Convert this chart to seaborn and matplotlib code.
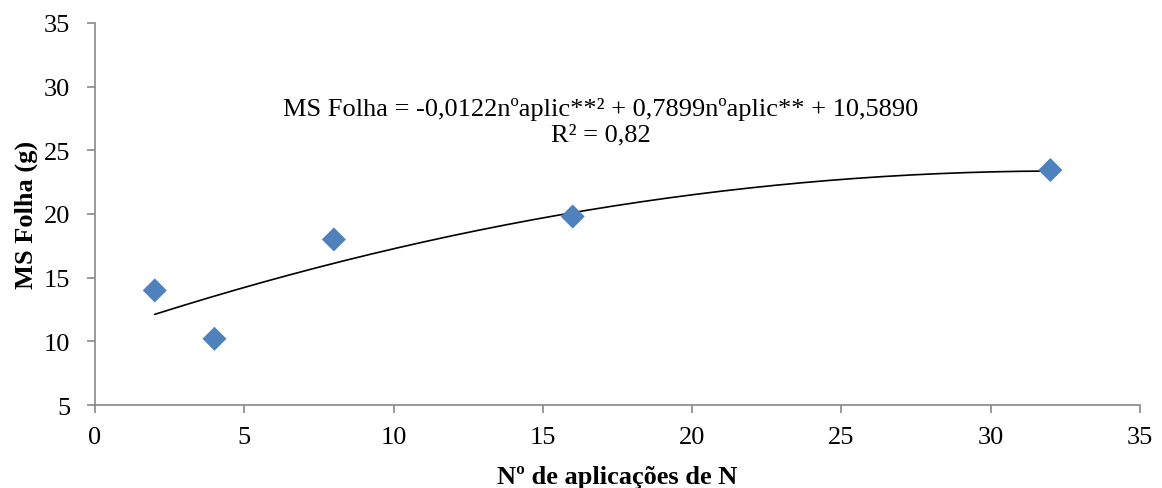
import numpy as np
import pandas as pd
import matplotlib
matplotlib.use("Agg")
import matplotlib.pyplot as plt
import seaborn as sns

# Number of N applications and leaf dry mass (g)
aplicacoes = [2, 4, 8, 16, 32]
ms_folha = [14.0, 10.2, 18.0, 19.8, 23.45]

# Quadratic trend coefficients (a·x² + b·x + c) and R²
coef = [-0.0122, 0.7899, 10.5890]
r2 = 0.82

sns.set_theme(style="white")
plt.rcParams["font.family"] = ["Liberation Serif", "DejaVu Serif"]
plt.rcParams["text.color"] = "black"
plt.rcParams["axes.labelcolor"] = "black"

fig = plt.figure(figsize=(11.62, 4.89), dpi=100)
ax = fig.add_axes([0.0818, 0.1697, 0.981 - 0.0818, 0.951 - 0.1697])

df = pd.DataFrame({"x": aplicacoes, "y": ms_folha})
xs = np.linspace(min(aplicacoes), max(aplicacoes), 200)
trend = pd.DataFrame({"x": xs, "y": np.polyval(coef, xs)})

sns.lineplot(data=trend, x="x", y="y", ax=ax, color="black", linewidth=1.2)
sns.scatterplot(data=df, x="x", y="y", ax=ax, marker="D", s=150,
                color="#4F81BD", edgecolor="none", zorder=3)

ax.set_xlim(0, 35)
ax.set_ylim(5, 35)
ax.set_xticks(range(0, 36, 5))
ax.set_yticks(range(5, 36, 5))

for side in ("top", "right"):
    ax.spines[side].set_visible(False)
for side in ("left", "bottom"):
    ax.spines[side].set_color("#898989")
    ax.spines[side].set_linewidth(1.2)

ax.tick_params(axis="both", which="major", direction="out", length=6,
               width=1.2, color="#898989", labelsize=19, labelcolor="black",
               bottom=True, left=True)
ax.tick_params(axis="x", pad=9)
ax.tick_params(axis="y", pad=12)

ax.set_xlabel("Nº de aplicações de N", fontsize=19, fontweight="bold", labelpad=12)
ax.set_ylabel("MS Folha (g)", fontsize=19, fontweight="bold", labelpad=4)

eq = (f"MS Folha = {coef[0]:.4f}nºaplic**² + {coef[1]:.4f}nºaplic** + {coef[2]:.4f}\n"
      f"R² = {r2:.2f}").replace(".", ",")
ax.text(16.95, 27.3, eq, fontsize=19, ha="center", va="center",
        linespacing=1.2, color="black")

fig.savefig("out.png", dpi=100)
